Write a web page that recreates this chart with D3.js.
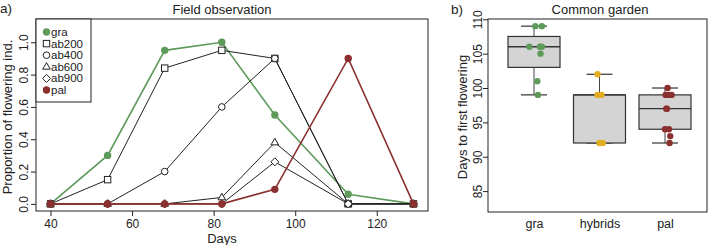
<!DOCTYPE html>
<html>
<head>
<meta charset="utf-8">
<script src="https://cdn.jsdelivr.net/npm/d3@7"></script>
<style>
  body { margin: 0; background: #fff; }
  svg text { font-family: "Liberation Sans", Arial, sans-serif; fill: #222; }
</style>
</head>
<body>
<div id="chart"></div>
<script>
// ---- data: field observation (panel a)
const days = [40, 54, 68, 82, 95, 113, 129];
const gra = [0, 0.30, 0.95, 1.0, 0.55, 0.06, 0];
const ab200 = [0, 0.15, 0.84, 0.95, 0.90, 0, 0];
const ab400 = [0, 0, 0.20, 0.60, 0.90, 0, 0];
const ab600 = [0, 0, 0, 0.04, 0.38, 0, 0];
const ab900 = [0, 0, 0, 0, 0.26, 0, 0];
const pal = [0, 0, 0, 0, 0.09, 0.90, 0];
const xTicks = [40, 60, 80, 100, 120];
const yTicks = [0, 0.2, 0.4, 0.6, 0.8, 1.0];

// ---- data: common garden (panel b)
const groups = ['gra', 'hybrids', 'pal'];
const graGarden = [109, 109, 106, 106, 106, 105, 101, 99];
const hybGarden = [102, 99, 99, 92, 92];
const palGarden = [100, 99, 99, 99, 97, 97, 94, 94, 93, 92];
// horizontal jitter of the dots, as a fraction of the group step
const graJitter = [0.02, 0.12, -0.07, 0.09, 0.12, 0.10, 0.05, 0.06];
const hybJitter = [-0.03, -0.03, 0.03, 0.0, 0.05];
const palJitter = [0.04, 0.01, 0.06, 0.10, 0.02, 0.03, 0.0, 0.06, 0.08, 0.07];
const gardenTicks = [85, 90, 95, 100, 105, 110];

const green = '#5e9b5b', red = '#8c2f2f', yellow = '#e3ad22', ink = '#222';

const svg = d3.select('#chart').append('svg')
  .attr('width', 709).attr('height', 245);

// ================= panel a =================
const x = d3.scaleLinear().domain([36.44, 132.56]).range([36, 428]);
const y = d3.scaleLinear().domain([-0.044, 1.144]).range([211, 19]);

const a = svg.append('g');

a.append('rect')
  .attr('x', 36).attr('y', 19).attr('width', 392).attr('height', 192)
  .attr('fill', 'none').attr('stroke', ink).attr('stroke-width', 1);

// axes
const xAxisA = a.append('g').attr('transform', 'translate(0,211)')
  .call(d3.axisBottom(x).tickValues(xTicks).tickSize(5).tickPadding(3).tickSizeOuter(0));
const yAxisA = a.append('g').attr('transform', 'translate(36,0)')
  .call(d3.axisLeft(y).tickValues(yTicks).tickFormat(d3.format('.1f')).tickSize(5).tickSizeOuter(0));

[xAxisA, yAxisA].forEach(g => {
  g.select('.domain').remove();
  g.selectAll('line').attr('stroke', ink);
  g.selectAll('text').style('font-size', '12px').attr('fill', ink);
});
// parallel-to-axis labels, R style
yAxisA.selectAll('text')
  .attr('transform', 'rotate(-90)')
  .attr('x', 0).attr('y', -8).attr('dy', 0)
  .attr('text-anchor', 'middle');

// series
const series = [
  { name: 'gra', values: gra, color: green, width: 1.6, symbol: 'dot' },
  { name: 'ab200', values: ab200, color: ink, width: 1, symbol: 'square' },
  { name: 'ab400', values: ab400, color: ink, width: 1, symbol: 'circle' },
  { name: 'ab600', values: ab600, color: ink, width: 1, symbol: 'triangle' },
  { name: 'ab900', values: ab900, color: ink, width: 1, symbol: 'diamond' },
  { name: 'pal', values: pal, color: red, width: 1.6, symbol: 'dot' }
];

function drawSymbol(g, kind, color, cx, cy) {
  if (kind === 'dot') {
    g.append('circle').attr('cx', cx).attr('cy', cy).attr('r', 3.7).attr('fill', color);
  } else if (kind === 'circle') {
    g.append('circle').attr('cx', cx).attr('cy', cy).attr('r', 3.3)
      .attr('fill', '#fff').attr('stroke', ink).attr('stroke-width', 1);
  } else if (kind === 'square') {
    g.append('rect').attr('x', cx - 3.2).attr('y', cy - 3.2).attr('width', 6.4).attr('height', 6.4)
      .attr('fill', '#fff').attr('stroke', ink).attr('stroke-width', 1);
  } else if (kind === 'triangle') {
    g.append('path').attr('d', `M${cx},${cy - 4.2}L${cx + 3.8},${cy + 2.4}L${cx - 3.8},${cy + 2.4}Z`)
      .attr('fill', '#fff').attr('stroke', ink).attr('stroke-width', 1);
  } else if (kind === 'diamond') {
    g.append('path').attr('d', `M${cx},${cy - 4}L${cx + 4},${cy}L${cx},${cy + 4}L${cx - 4},${cy}Z`)
      .attr('fill', '#fff').attr('stroke', ink).attr('stroke-width', 1);
  }
}

const line = d3.line().x(d => x(d[0])).y(d => y(d[1]));

series.forEach(s => {
  const pts = days.map((d, i) => [d, s.values[i]]);
  const g = a.append('g');
  g.append('path').datum(pts)
    .attr('d', line)
    .attr('fill', 'none')
    .attr('stroke', s.color)
    .attr('stroke-width', s.width);
  pts.forEach(p => drawSymbol(g, s.symbol, s.color, x(p[0]), y(p[1])));
});

// legend
const legend = a.append('g');
legend.append('rect')
  .attr('x', 36).attr('y', 19).attr('width', 55).attr('height', 83)
  .attr('fill', '#fff').attr('stroke', ink).attr('stroke-width', 1);
series.forEach((s, i) => {
  const ly = 32 + i * 11.6;
  drawSymbol(legend, s.symbol, s.color, 46.5, ly);
  legend.append('text')
    .attr('x', 51).attr('y', ly + 4)
    .style('font-size', '11.5px')
    .text(s.name);
});

// labels
a.append('text').attr('x', 0).attr('y', 13).style('font-size', '13.5px').text('a)');
a.append('text').attr('x', 222).attr('y', 14).attr('text-anchor', 'middle')
  .style('font-size', '13px').text('Field observation');
a.append('text').attr('x', 222).attr('y', 242.5).attr('text-anchor', 'middle')
  .style('font-size', '13px').text('Days');
a.append('text')
  .attr('transform', 'translate(12,117)rotate(-90)')
  .attr('text-anchor', 'middle')
  .style('font-size', '13px')
  .text('Proportion of flowering ind.');

// ================= panel b =================
const xb = d3.scalePoint().domain(groups).range([534, 665]);
const step = xb.step();
const yb = d3.scaleLinear().domain([81.96, 110.04]).range([212, 19]);

const b = svg.append('g');

b.append('rect')
  .attr('x', 488).attr('y', 19).attr('width', 219).attr('height', 193)
  .attr('fill', 'none').attr('stroke', ink).attr('stroke-width', 1);

const yAxisB = b.append('g').attr('transform', 'translate(488,0)')
  .call(d3.axisLeft(yb).tickValues(gardenTicks).tickSize(5).tickSizeOuter(0));
yAxisB.select('.domain').remove();
yAxisB.selectAll('line').attr('stroke', ink);
yAxisB.selectAll('text')
  .style('font-size', '12px').attr('fill', ink)
  .attr('transform', 'rotate(-90)')
  .attr('x', 0).attr('y', -6).attr('dy', 0)
  .attr('text-anchor', 'middle');

const xAxisB = b.append('g').attr('transform', 'translate(0,212)')
  .call(d3.axisBottom(xb).tickSize(0).tickPadding(7));
xAxisB.select('.domain').remove();
xAxisB.selectAll('text').style('font-size', '12.5px').attr('fill', ink);

// Tukey hinges like R's fivenum
function fivenum(values) {
  const v = values.slice().sort(d3.ascending);
  const n = v.length;
  const n4 = Math.floor((n + 3) / 2) / 2;
  const idx = [1, n4, (n + 1) / 2, n + 1 - n4, n];
  return idx.map(i => 0.5 * (v[Math.floor(i) - 1] + v[Math.ceil(i) - 1]));
}

const garden = [
  { group: 'gra', values: graGarden, jitter: graJitter, color: green },
  { group: 'hybrids', values: hybGarden, jitter: hybJitter, color: yellow },
  { group: 'pal', values: palGarden, jitter: palJitter, color: red }
];

const boxW = 52, capW = 26;
garden.forEach(gd => {
  const [mn, q1, med, q3, mx] = fivenum(gd.values);
  const iqr = q3 - q1;
  const lo = d3.min(gd.values.filter(v => v >= q1 - 1.5 * iqr));
  const hi = d3.max(gd.values.filter(v => v <= q3 + 1.5 * iqr));
  const cx = xb(gd.group);
  const g = b.append('g');

  // whiskers
  g.append('line').attr('x1', cx).attr('x2', cx).attr('y1', yb(hi)).attr('y2', yb(q3))
    .attr('stroke', '#444').attr('stroke-width', 1);
  g.append('line').attr('x1', cx).attr('x2', cx).attr('y1', yb(q1)).attr('y2', yb(lo))
    .attr('stroke', '#444').attr('stroke-width', 1);
  [hi, lo].forEach(v => g.append('line')
    .attr('x1', cx - capW / 2).attr('x2', cx + capW / 2)
    .attr('y1', yb(v)).attr('y2', yb(v))
    .attr('stroke', '#333').attr('stroke-width', 1.2));

  // box
  g.append('rect')
    .attr('x', cx - boxW / 2).attr('y', yb(q3))
    .attr('width', boxW).attr('height', yb(q1) - yb(q3))
    .attr('fill', '#d4d4d4').attr('stroke', '#333').attr('stroke-width', 1.2);
  g.append('line')
    .attr('x1', cx - boxW / 2).attr('x2', cx + boxW / 2)
    .attr('y1', yb(med)).attr('y2', yb(med))
    .attr('stroke', '#333').attr('stroke-width', 1.4);

  // dots
  g.selectAll('circle').data(gd.values).join('circle')
    .attr('cx', (d, i) => cx + gd.jitter[i] * step)
    .attr('cy', d => yb(d))
    .attr('r', 3.2)
    .attr('fill', gd.color);
});

b.append('text').attr('x', 451).attr('y', 14).style('font-size', '13.5px').text('b)');
b.append('text').attr('x', 600).attr('y', 14).attr('text-anchor', 'middle')
  .style('font-size', '13px').text('Common garden');
b.append('text')
  .attr('transform', 'translate(467,117)rotate(-90)')
  .attr('text-anchor', 'middle')
  .style('font-size', '13px')
  .text('Days to first flowering');
</script>
</body>
</html>
